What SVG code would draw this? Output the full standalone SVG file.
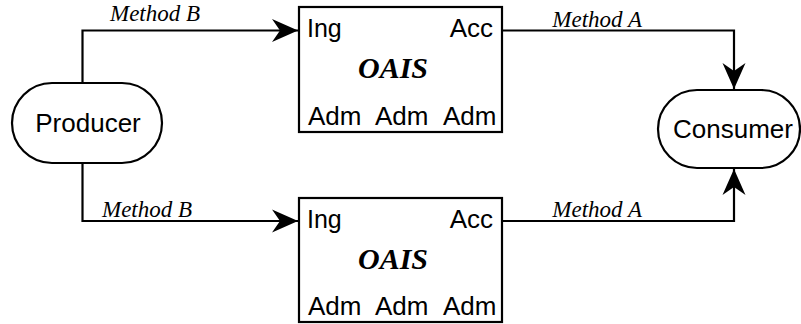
<svg xmlns="http://www.w3.org/2000/svg" width="801" height="324" viewBox="0 0 801 324">
<style>
.shape{fill:#fff;stroke:#000;stroke-width:2.2}
.conn{fill:none;stroke:#000;stroke-width:2.2}
.sans{font-family:"Liberation Sans",Arial,sans-serif;fill:#000}
.lbl{font-family:"Liberation Serif","Times New Roman",serif;font-style:italic;font-size:23px;fill:#000}
.oais{font-family:"Liberation Serif","Times New Roman",serif;font-style:italic;font-weight:bold;font-size:30px;fill:#000}
</style>
<defs>
<marker id="arr" markerUnits="userSpaceOnUse" markerWidth="30" markerHeight="26" viewBox="-27 -13 30 26" refX="0" refY="0" orient="auto">
<path d="M0,0 L-26,-11.5 L-18,0 L-26,11.5 Z" fill="#000"/>
</marker>
</defs>
<rect width="801" height="324" fill="#fff"/>
<g id="connectors">
<path class="conn" d="M82.5,83 V30.5 H298" marker-end="url(#arr)"/>
<path class="conn" d="M82.5,163 V221 H298" marker-end="url(#arr)"/>
<path class="conn" d="M502,30.5 H734 V89" marker-end="url(#arr)"/>
<path class="conn" d="M502,221 H734 V169" marker-end="url(#arr)"/>
<text class="lbl" x="110" y="21">Method B</text>
<text class="lbl" x="102" y="217">Method B</text>
<text class="lbl" x="642" y="27" text-anchor="end">Method A</text>
<text class="lbl" x="642" y="217" text-anchor="end">Method A</text>
</g>
<g id="producer">
<rect class="shape" x="12" y="83" width="150" height="80" rx="40"/>
<text class="sans" x="88" y="132" font-size="26" text-anchor="middle">Producer</text>
</g>
<g id="consumer">
<rect class="shape" x="658" y="90" width="142" height="78" rx="39"/>
<text class="sans" x="733" y="138" font-size="26" text-anchor="middle">Consumer</text>
</g>
<g id="oais1">
<rect class="shape" x="299" y="7" width="203" height="125"/>
<text class="sans" x="307" y="37" font-size="25">Ing</text>
<text class="sans" x="493" y="37" font-size="26" text-anchor="end">Acc</text>
<text class="oais" x="393" y="78" text-anchor="middle">OAIS</text>
<text class="sans" x="308" y="125" font-size="26">Adm</text>
<text class="sans" x="375" y="125" font-size="26">Adm</text>
<text class="sans" x="443" y="125" font-size="26">Adm</text>
</g>
<g id="oais2">
<rect class="shape" x="299" y="198" width="203" height="124"/>
<text class="sans" x="307" y="228" font-size="25">Ing</text>
<text class="sans" x="493" y="228" font-size="26" text-anchor="end">Acc</text>
<text class="oais" x="393" y="269" text-anchor="middle">OAIS</text>
<text class="sans" x="308" y="315" font-size="26">Adm</text>
<text class="sans" x="375" y="315" font-size="26">Adm</text>
<text class="sans" x="443" y="315" font-size="26">Adm</text>
</g>
</svg>
